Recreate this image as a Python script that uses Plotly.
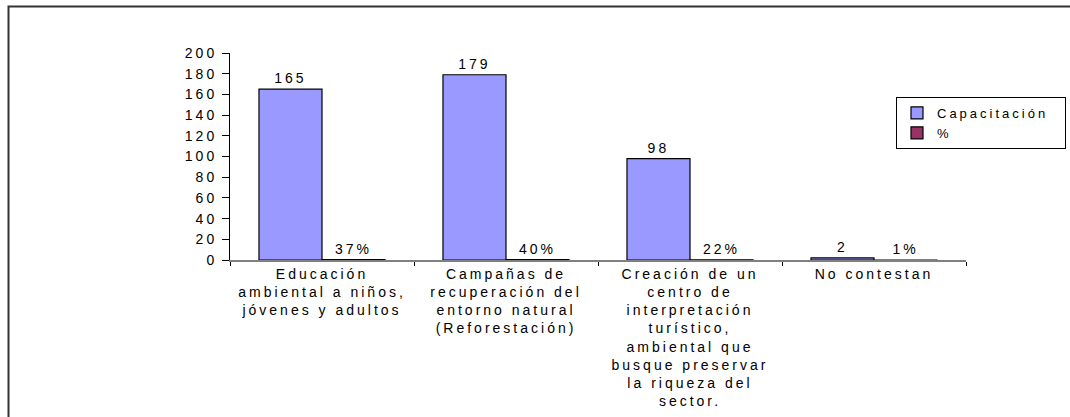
import plotly.graph_objects as go

categories = [
    "Educación<br>ambiental a niños,<br>jóvenes y adultos",
    "Campañas de<br>recuperación del<br>entorno natural<br>(Reforestación)",
    "Creación de un<br>centro de<br>interpretación<br>turístico,<br>ambiental que<br>busque preservar<br>la riqueza del<br>sector.",
    "No contestan",
]
capacitacion = [165, 179, 98, 2]
porcentaje = [37, 40, 22, 1]
y_ticks = list(range(0, 201, 20))

FONT = "Arial, Liberation Sans, sans-serif"
FS = 14
PAD = "\u00a0" * 13

fig = go.Figure()
fig.add_trace(go.Bar(
    name="Capacitación" + PAD, x=categories, y=capacitacion,
    marker=dict(color="#9999FF", line=dict(color="#000000", width=1.2)),
    text=[str(v) for v in capacitacion], textposition="outside",
    textfont=dict(family=FONT, size=FS, color="#000000"), cliponaxis=False,
))
fig.add_trace(go.Bar(
    name="%", x=categories, y=[p / 100 for p in porcentaje],
    marker=dict(color="#993366", line=dict(color="#000000", width=1.2)),
    text=[f"{p}%" for p in porcentaje], textposition="outside",
    textfont=dict(family=FONT, size=FS, color="#000000"), cliponaxis=False,
))

W, H = 1070, 417
L, R, T, B = 230, 104, 53, 157
pw, ph = W - L - R, H - T - B

fig.update_layout(
    width=W, height=H,
    margin=dict(l=L, r=R, t=T, b=B, autoexpand=False),
    paper_bgcolor="white", plot_bgcolor="white",
    barmode="group", bargap=0.315, bargroupgap=0,
    font=dict(family=FONT, size=FS, color="#000000"),
    showlegend=True,
    legend=dict(
        x=(896 - L) / pw, y=(H - B - 97) / ph, xanchor="left", yanchor="top",
        bordercolor="#000000", borderwidth=1, bgcolor="white",
        font=dict(family=FONT, size=13), tracegroupgap=0,
    ),
    xaxis=dict(
        showline=True, linecolor="#808080", linewidth=2,
        ticks="outside", tickson="boundaries", ticklen=4, tickcolor="#000000",
        showgrid=False, tickfont=dict(family=FONT, size=FS),
    ),
    yaxis=dict(
        range=[0, 200], tickvals=y_ticks, showline=True, linecolor="#000000",
        linewidth=1, ticks="outside", ticklen=7, tickcolor="#000000",
        showgrid=False, zeroline=False, tickfont=dict(family=FONT, size=FS),
        ticklabelstandoff=2,
    ),
    shapes=[dict(
        type="rect", xref="paper", yref="paper",
        x0=(8.5 - L) / pw, x1=(W + 20 - L) / pw,
        y0=(H - B - 6.5) / ph, y1=(H - B - (H + 20)) / ph,
        line=dict(color="#333333", width=2), fillcolor="rgba(0,0,0,0)",
        layer="below",
    )],
)

post = """
var s = document.createElement('style');
s.textContent = 'body{margin:0 !important;} svg text{letter-spacing:3px;}';
document.head.appendChild(s);
"""

fig.write_html("out.html", post_script=post, config={"displayModeBar": False})
